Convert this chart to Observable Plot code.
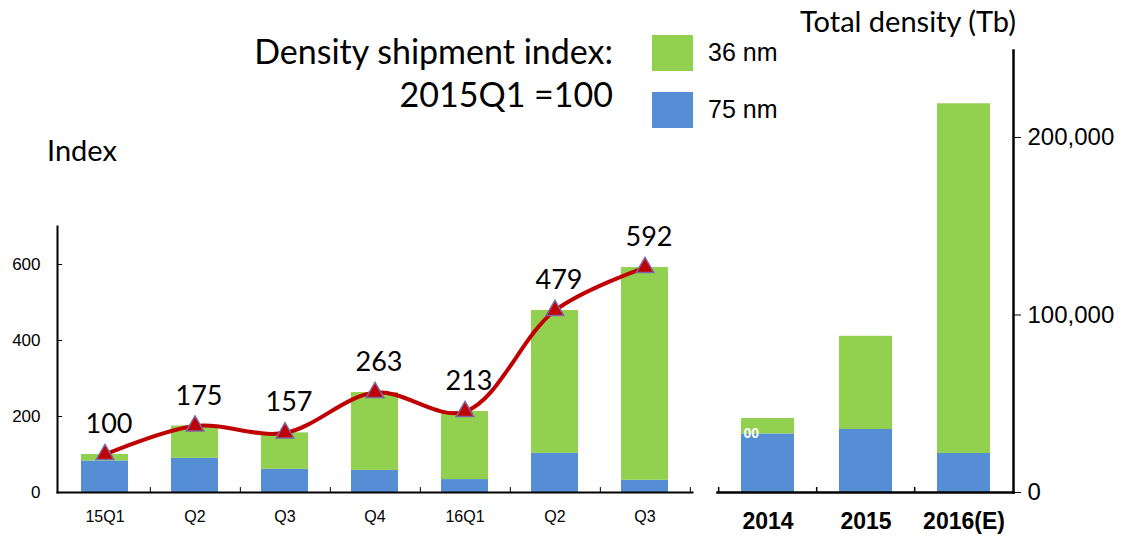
<!DOCTYPE html>
<html><head><meta charset="utf-8">
<script src="https://cdn.jsdelivr.net/npm/d3@7"></script>
<script src="https://cdn.jsdelivr.net/npm/@observablehq/plot@0.6"></script>
<style>
body{margin:0;background:#fff;}
#wrap{position:relative;width:1147px;height:539px;overflow:hidden;font-family:Lato,"Open Sans",sans-serif;color:#000;}
.abs{position:absolute;white-space:nowrap;line-height:1;}
.plot{position:absolute;top:0;}
.sw{position:absolute;}
</style></head><body><div id="wrap"></div>
<script>
// ---- data ----
const quarterKeys = ["15Q1","15Q2","15Q3","15Q4","16Q1","16Q2","16Q3"];
const quarterLabels = ["15Q1","Q2","Q3","Q4","16Q1","Q2","Q3"];
const index75 = [83, 90, 61, 58, 34, 103, 32];
const index36 = [17, 85, 96, 205, 179, 376, 560];
const indexTotal = [100, 175, 157, 263, 213, 479, 592];
const indexTicks = [0, 200, 400, 600];

const years = ["2014", "2015", "2016(E)"];
const density75 = [33000, 35500, 22000];
const density36 = [8700, 52500, 197000];
const densityTicks = [0, 100000, 200000];
const clippedLabel = ["00"];

const seriesNames = ["75 nm", "36 nm"];
const seriesColors = ["#558ed5", "#92d050"];
const lineColor = "#c00000";
const markerStroke = "#8064a2";

// ---- tables ----
const leftRows = [];
quarterKeys.forEach((q, i) => {
  leftRows.push({q, s: seriesNames[0], v: index75[i]});
  leftRows.push({q, s: seriesNames[1], v: index36[i]});
});
const totals = quarterKeys.map((q, i) => ({q, v: indexTotal[i]}));
const rightRows = [];
years.forEach((y, i) => {
  rightRows.push({yr: y, s: seriesNames[0], v: density75[i]});
  rightRows.push({yr: y, s: seriesNames[1], v: density36[i]});
});
const labelFor = new Map(quarterKeys.map((k, i) => [k, quarterLabels[i]]));

const wrap = document.getElementById("wrap");
const color = {domain: seriesNames, range: seriesColors};

// ---- left chart ----
const LW = 720, LML = 57, LMR = 28;
const lStep = (LW - LML - LMR) / quarterKeys.length;
const left = Plot.plot({
  width: LW, height: 539,
  marginLeft: LML, marginRight: LMR, marginTop: 226, marginBottom: 47,
  style: {fontFamily: "'Liberation Sans', Arial, sans-serif", background: "transparent", overflow: "visible"},
  x: {domain: quarterKeys, paddingInner: 0.48, paddingOuter: 0.24, axis: null},
  y: {domain: [0, 700], axis: null},
  color,
  marks: [
    Plot.barY(leftRows, {x: "q", y: "v", fill: "s"}),
    Plot.frame({anchor: "left", stroke: "#000", strokeWidth: 2}),
    Plot.frame({anchor: "bottom", stroke: "#000", strokeWidth: 2}),
    Plot.axisY({ticks: indexTicks, tickSize: -5, tickPadding: 22, fontSize: 17, stroke: "#000", label: null}),
    Plot.ruleX(quarterKeys, {x: d => d, y1: 0, y2: 13, dx: lStep / 2, stroke: "#000"}),
    Plot.axisX({tickSize: 0, tickPadding: 18, fontSize: 16, tickFormat: d => labelFor.get(d), label: null}),
    Plot.line(totals, {x: "q", y: "v", curve: "catmull-rom", stroke: lineColor, strokeWidth: 4}),
    Plot.dot(totals, {x: "q", y: "v", symbol: "triangle", r: 6.5, fill: lineColor, stroke: markerStroke, strokeWidth: 1.5}),
    Plot.text(totals, {x: "q", y: "v", text: d => String(d.v), dy: -30, dx: 4, fontSize: 27, fontFamily: "Lato, sans-serif", fill: "#000"})
  ]
});
left.classList.add("plot");
left.style.left = "0px";
wrap.appendChild(left);

// ---- right chart ----
const RW = 447, RML = 17, RMR = 134;
const rStep = (RW - RML - RMR) / years.length;
const right = Plot.plot({
  width: RW, height: 539,
  marginLeft: RML, marginRight: RMR, marginTop: 50, marginBottom: 47,
  style: {fontFamily: "'Liberation Sans', Arial, sans-serif", background: "transparent", overflow: "visible"},
  x: {domain: years, paddingInner: 0.46, paddingOuter: 0.23, axis: null},
  y: {domain: [0, 249000], axis: null},
  color,
  marks: [
    Plot.barY(rightRows, {x: "yr", y: "v", fill: "s"}),
    Plot.text(clippedLabel, {x: () => years[0], y: () => density75[0], text: d => d, fill: "#fff", fontWeight: "bold", fontSize: 14, textAnchor: "end", dx: -9}),
    Plot.frame({anchor: "right", stroke: "#000", strokeWidth: 2.5}),
    Plot.frame({anchor: "bottom", stroke: "#000", strokeWidth: 2.5}),
    Plot.axisY({anchor: "right", ticks: densityTicks, tickSize: 7, tickPadding: 7, fontSize: 24, tickFormat: d3.format(","), stroke: "#000", label: null}),
    Plot.ruleX(years, {x: d => d, y1: 0, y2: 2800, dx: -rStep / 2, stroke: "#000", strokeWidth: 1.5}),
    Plot.axisX({tickSize: 0, tickPadding: 20, fontSize: 23, fontWeight: "bold", label: null})
  ]
});
right.classList.add("plot");
right.style.left = "700px";
wrap.appendChild(right);

// ---- titles & legend ----
function addText(txt, css) {
  const d = document.createElement("div");
  d.className = "abs";
  d.textContent = txt;
  Object.assign(d.style, css);
  wrap.appendChild(d);
}
addText("Density shipment index:", {right: (1147 - 613) + "px", top: "34px", fontSize: "34px"});
addText("2015Q1 =100", {right: (1147 - 613) + "px", top: "77px", fontSize: "34px"});
addText("Index", {left: "47px", top: "135px", fontSize: "29px"});
addText("Total density (Tb)", {left: "800px", top: "6px", fontSize: "29px"});

const legendItems = [
  {name: seriesNames[1], color: seriesColors[1], top: 35},
  {name: seriesNames[0], color: seriesColors[0], top: 92}
];
legendItems.forEach(it => {
  const sw = document.createElement("div");
  sw.className = "sw";
  Object.assign(sw.style, {left: "652px", top: it.top + "px", width: "41px", height: "36px", background: it.color});
  wrap.appendChild(sw);
  addText(it.name, {left: "708px", top: (it.top + 5) + "px", fontSize: "25px", fontFamily: "'Liberation Sans', Arial, sans-serif"});
});
</script></body></html>
